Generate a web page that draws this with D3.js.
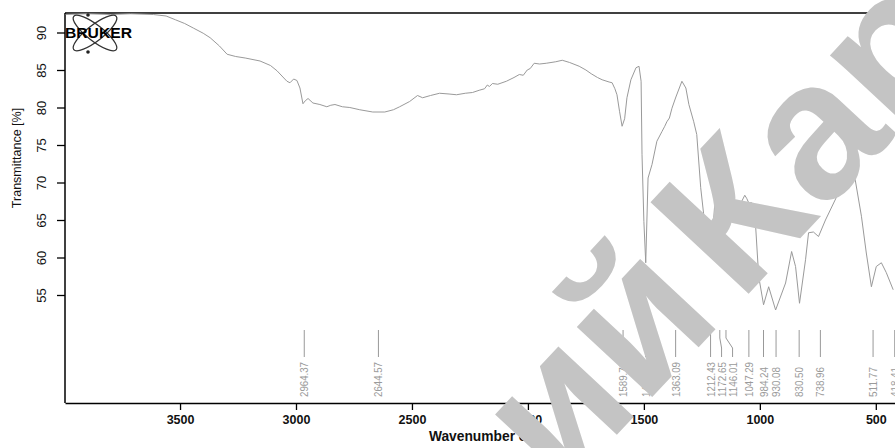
<!DOCTYPE html>
<html>
<head>
<meta charset="utf-8">
<script src="https://cdn.jsdelivr.net/npm/d3@7"></script>
<style>
  body { margin: 0; background: #fff; }
  svg { display: block; }
  text { font-family: "Liberation Sans", Arial, sans-serif; }
</style>
</head>
<body>
<div id="chart"></div>
<script>
// IR spectrum
const wavenumbers = [
  3993, 3900, 3800, 3714, 3615, 3560, 3520, 3480, 3443, 3400, 3370, 3330, 3297, 3260, 3219, 3155,
  3110, 3082, 3039, 3026, 3010, 2996, 2983, 2970, 2960, 2948, 2927, 2897, 2867, 2850, 2832, 2800,
  2768, 2725, 2669, 2617, 2580, 2553, 2510, 2476, 2454, 2420, 2381, 2340, 2308, 2270, 2239, 2210,
  2187, 2175, 2166, 2153, 2130, 2093, 2060, 2037, 2020, 2003, 1990, 1973, 1950, 1921, 1880, 1852,
  1820, 1779, 1750, 1727, 1700, 1680, 1650, 1637, 1625, 1616, 1605, 1594, 1583, 1573, 1556, 1534,
  1521, 1512, 1508, 1500, 1492, 1482, 1465, 1444, 1422, 1410, 1401, 1390, 1379, 1362, 1336, 1319,
  1306, 1285, 1272, 1255, 1242, 1220, 1207, 1194, 1186, 1173, 1164, 1147, 1134, 1104, 1078, 1065,
  1057, 1048, 1035, 1018, 1005, 984, 962, 932, 889, 863, 846, 829, 803, 790, 769, 747,
  717, 661, 606, 589, 562, 541, 519, 498, 476, 455, 425
];
const transmittance = [
  92.4, 92.5, 92.4, 92.5, 92.4, 92.2, 91.7, 91.2, 90.6, 89.9, 89.3, 88.2, 87.1, 86.8, 86.6, 86.2,
  85.6, 84.9, 83.5, 83.3, 83.8, 83.6, 82.6, 80.5, 80.9, 81.2, 80.6, 80.4, 80.1, 80.3, 80.4, 80.1,
  80.0, 79.7, 79.4, 79.4, 79.7, 80.1, 80.8, 81.6, 81.3, 81.6, 81.9, 81.8, 81.7, 81.9, 82.0, 82.3,
  82.5, 83.0, 82.8, 83.2, 83.1, 83.5, 84.0, 84.4, 84.3, 85.0, 85.2, 85.9, 85.8, 85.9, 86.1, 86.3,
  86.0, 85.5, 85.0, 84.5, 84.0, 83.7, 83.4, 83.3, 82.5, 81.7, 79.5, 77.5, 78.5, 81.3, 83.7, 85.3,
  85.5, 83.5, 73.7, 64.8, 59.3, 70.6, 72.4, 75.5, 76.8, 77.5, 78.1, 78.6, 79.9, 81.4, 83.5, 82.6,
  80.4, 78.1, 76.4, 69.3, 65.7, 64.8, 61.7, 67.3, 66.1, 61.3, 64.8, 63.9, 64.8, 65.7, 67.5, 68.3,
  67.9, 67.3, 67.3, 64.1, 57.5, 53.7, 56.1, 53.0, 56.6, 60.8, 58.8, 53.9, 59.7, 63.3, 63.4, 62.8,
  65.0, 68.6, 70.8, 70.4, 65.5, 60.6, 56.1, 58.8, 59.3, 58.0, 55.7
];

const peakPositions = [2964.37, 2644.57, 1589.72, 1492.97, 1363.09, 1212.43, 1172.65, 1146.01,
  1047.29, 984.24, 930.08, 830.50, 738.96, 511.77, 418.41];
const peakLabels = ["2964.37", "2644.57", "1589.72", "1492.97", "1363.09", "1212.43", "1172.65",
  "1146.01", "1047.29", "984.24", "930.08", "830.50", "738.96", "511.77", "418.41"];

const xTicks = [3500, 3000, 2500, 2000, 1500, 1000, 500];
const yTicks = [55, 60, 65, 70, 75, 80, 85, 90];

const width = 895;
const height = 448;
const plotLeft = 65, plotTop = 13, plotBottom = 403;

const svg = d3.select('#chart')
  .append('svg')
  .attr('width', width)
  .attr('height', height);

const x = d3.scaleLinear().domain([3996, 400]).range([plotLeft, 899]);
const y = d3.scaleLinear().domain([40.6, 92.6]).range([plotBottom, plotTop]);

// frame
svg.append('line')
  .attr('x1', plotLeft).attr('x2', width).attr('y1', plotTop).attr('y2', plotTop)
  .attr('stroke', '#000').attr('stroke-width', 1.5);

const xAxis = svg.append('g')
  .attr('transform', `translate(0,${plotBottom})`)
  .call(d3.axisBottom(x).tickValues(xTicks).tickSize(7).tickSizeOuter(0).tickFormat(d3.format('d')));
xAxis.select('.domain').attr('stroke-width', 1.5);
xAxis.selectAll('.tick line').attr('stroke-width', 1.3);
xAxis.selectAll('.tick text')
  .attr('y', 12)
  .attr('font-size', 12.5)
  .attr('font-weight', 'bold')
  .attr('fill', '#111')
  .style('font-family', '"Liberation Sans", Arial, sans-serif');

const yAxis = svg.append('g')
  .attr('transform', `translate(${plotLeft},0)`)
  .call(d3.axisLeft(y).tickValues(yTicks).tickSize(8).tickSizeOuter(0));
yAxis.select('.domain').attr('d', `M0,${plotTop}V${plotBottom}`).attr('stroke-width', 1.5);
yAxis.selectAll('.tick line').attr('stroke-width', 1.3);
yAxis.selectAll('.tick text')
  .attr('x', null).attr('dy', null)
  .attr('transform', 'translate(-19,0) rotate(-90)')
  .attr('text-anchor', 'middle')
  .attr('font-size', 13)
  .attr('fill', '#111')
  .style('font-family', '"Liberation Sans", Arial, sans-serif');

svg.append('text')
  .attr('transform', 'translate(21,158) rotate(-90)')
  .attr('text-anchor', 'middle')
  .attr('font-size', 12.5)
  .attr('fill', '#111')
  .text('Transmittance [%]');

svg.append('text')
  .attr('x', 490).attr('y', 441)
  .attr('text-anchor', 'middle')
  .attr('font-size', 13.8)
  .attr('font-weight', 'bold')
  .attr('fill', '#111')
  .text('Wavenumber cm-1');

// spectrum
const spectrum = wavenumbers.map((w, i) => [w, transmittance[i]]);
svg.append('path')
  .datum(spectrum)
  .attr('fill', 'none')
  .attr('stroke', '#9a9a9a')
  .attr('stroke-width', 1)
  .attr('d', d3.line().x(d => x(d[0])).y(d => y(d[1])));

// peak picks: push labels apart when they crowd
const gap = 11;
const peaks = peakPositions.map((p, i) => ({ px: x(p), label: peakLabels[i] }))
  .sort((a, b) => a.px - b.px);
peaks.forEach((d, i) => {
  d.lx = i > 0 ? Math.max(d.px, peaks[i - 1].lx + gap) : d.px;
});

const pk = svg.append('g');
pk.selectAll('path')
  .data(peaks)
  .enter()
  .append('path')
  .attr('fill', 'none')
  .attr('stroke', '#999')
  .attr('stroke-width', 1)
  .attr('d', d => `M${d.px},330V338L${d.lx},348V357`);
pk.selectAll('text')
  .data(peaks)
  .enter()
  .append('text')
  .attr('transform', d => `translate(${d.lx + 4},397) rotate(-90)`)
  .attr('font-size', 11.5)
  .attr('fill', '#9a9a9a')
  .attr('textLength', d => d.label.length * 5)
  .attr('lengthAdjust', 'spacingAndGlyphs')
  .text(d => d.label);

// Bruker logo
const logo = svg.append('g').attr('transform', 'translate(95,33)');
[-38, 38].forEach(a => {
  logo.append('ellipse')
    .attr('rx', 27).attr('ry', 8)
    .attr('transform', `rotate(${a})`)
    .attr('fill', 'none').attr('stroke', '#333').attr('stroke-width', 1.3);
});
logo.append('circle').attr('cx', -7).attr('cy', -18).attr('r', 1.8).attr('fill', '#222');
logo.append('circle').attr('cx', -7).attr('cy', 19).attr('r', 1.8).attr('fill', '#222');
logo.append('text')
  .attr('x', -30).attr('y', 5)
  .attr('font-size', 14)
  .attr('font-weight', 'bold')
  .attr('fill', '#000')
  .attr('textLength', 67)
  .attr('lengthAdjust', 'spacingAndGlyphs')
  .text('BRUKER');

// watermark
const wm = svg.append('g').attr('transform', 'translate(752,290) rotate(-47)');
wm.append('text')
  .attr('x', -18).attr('y', 0)
  .attr('font-size', 195)
  .attr('font-weight', 'bold')
  .attr('fill', '#c4c4c4')
  .text('Кар');
wm.append('text')
  .attr('x', -40).attr('y', 0)
  .attr('text-anchor', 'end')
  .attr('font-size', 195)
  .attr('font-weight', 'bold')
  .attr('fill', '#c4c4c4')
  .text('ий');
</script>
</body>
</html>
